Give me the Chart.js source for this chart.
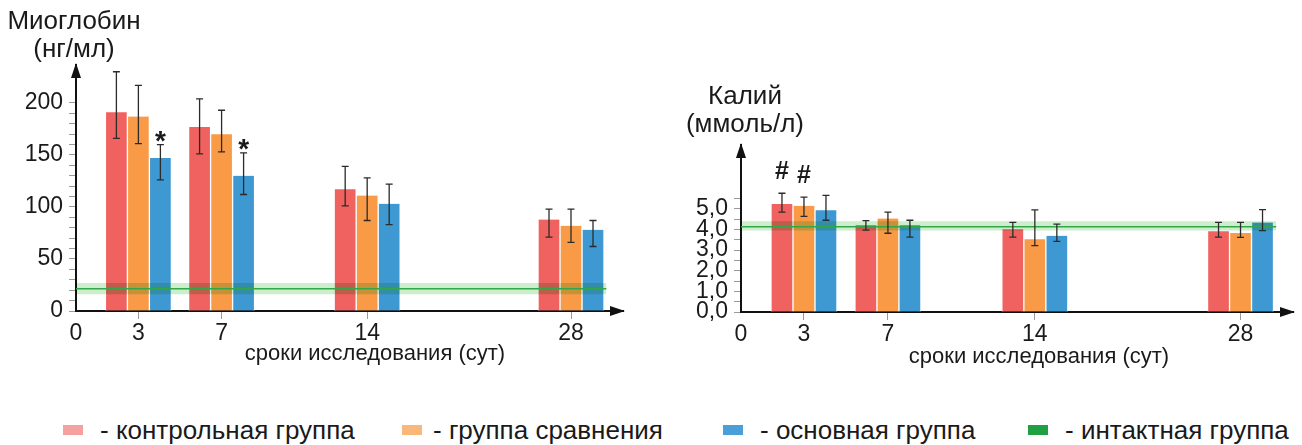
<!DOCTYPE html>
<html>
<head>
<meta charset="utf-8">
<script src="https://cdn.jsdelivr.net/npm/chart.js@4.4.1/dist/chart.umd.min.js"></script>
<style>
  body { margin: 0; background: #fff; font-family: "Liberation Sans", Arial, sans-serif; color: #1a1a1a; }
  #page { position: relative; width: 1302px; height: 445px; overflow: hidden; }
  .box { position: absolute; top: 0; }
  .ytitle { position: absolute; width: 240px; text-align: center; font-size: 26px; line-height: 28px; }
  .xtitle { position: absolute; width: 400px; text-align: center; font-size: 22px; line-height: 26px; }
  .sq { position: absolute; width: 20px; height: 10px; top: 425px; }
  .lt { position: absolute; top: 415px; font-size: 26px; line-height: 30px; white-space: nowrap; }
</style>
</head>
<body>
<div id="page">
  <div class="box" style="left:0"><canvas id="chartMyo" width="650" height="400"></canvas></div>
  <div class="box" style="left:650px"><canvas id="chartK" width="652" height="400"></canvas></div>

  <div class="ytitle" style="left:-46px; top:6px">Миоглобин<br>(нг/мл)</div>
  <div class="ytitle" style="left:625px; top:81px">Калий<br>(ммоль/л)</div>
  <div class="xtitle" style="left:175px; top:340px">сроки исследования (сут)</div>
  <div class="xtitle" style="left:839px; top:343px">сроки исследования (сут)</div>

  <div class="sq" style="left:63px; background:#F5A19F"></div><div class="lt" style="left:100px">- контрольная группа</div>
  <div class="sq" style="left:402px; background:#F9B77A"></div><div class="lt" style="left:433px">- группа сравнения</div>
  <div class="sq" style="left:723px; background:#4A9FD6"></div><div class="lt" style="left:760px">- основная группа</div>
  <div class="sq" style="left:1028px; background:#1FA042"></div><div class="lt" style="left:1065px">- интактная группа</div>
</div>

<script>
// study days (labels) and where they sit on the (broken) time axis
var dayLabels = ['0', '3', '7', '14', '28'];
var dayPos = [0, 3, 7, 14, 23.8];
var xMax = 26.3;
var intactSpan = [0, 25.5];

var groupColors = ['#F0625F', '#F99B46', '#3E98D2'];

// myoglobin, ng/ml : control, comparison, main group
var myoMean = [[191, 177, 117, 88], [187, 170, 111, 82], [147, 130, 103, 78]];
var myoLow  = [[166, 151, 101, 71], [161, 153, 87, 66], [126, 112, 83, 62]];
var myoHigh = [[230, 204, 139, 98], [217, 193, 128, 98], [160, 152, 122, 87]];
var myoMarks = [['', '', '', ''], ['', '', '', ''], ['*', '*', '', '']];
var myoIntact = [21.5, 16, 27]; // mean, low, high
var myoTicks = [0, 50, 100, 150, 200];
var myoTickLabels = ['0', '50', '100', '150', '200'];

// potassium, mmol/l
var kMean = [[5.24, 4.21, 4.01, 3.92], [5.15, 4.53, 3.53, 3.83], [4.94, 4.21, 3.70, 4.34]];
var kLow  = [[4.84, 3.97, 3.63, 3.63], [4.64, 3.82, 3.22, 3.62], [4.45, 3.63, 3.43, 3.95]];
var kHigh = [[5.76, 4.43, 4.35, 4.35], [5.57, 4.84, 4.95, 4.35], [5.66, 4.45, 4.26, 4.97]];
var kMarks = [['#', '', '', ''], ['#', '', '', ''], ['', '', '', '']];
var kIntact = [4.14, 3.95, 4.40];
var kTicks = [0, 1, 2, 3, 4, 5];
var kTickLabels = ['0,0', '1,0', '2,0', '3,0', '4,0', '5,0'];

var FONT = '"Liberation Sans", Arial, sans-serif';

// error bars + significance marks + axis arrows
var extrasPlugin = {
  id: 'extras',
  // the intact band (dataset 3) is drawn right after dataset 0, blend it with multiply
  afterDatasetDraw: function(chart, args) {
    if (args.index === 0) chart.ctx.globalCompositeOperation = 'multiply';
    if (args.index === 3) chart.ctx.globalCompositeOperation = 'source-over';
  },
  afterDatasetsDraw: function(chart) {
    var o = chart.options.plugins.extras;
    var ctx = chart.ctx;
    var yScale = chart.scales.y;
    ctx.save();
    ctx.globalCompositeOperation = 'source-over';
    for (var s = 0; s < 3; s++) {
      var meta = chart.getDatasetMeta(s);
      meta.data.forEach(function(bar, j) {
        var yLo = yScale.getPixelForValue(o.low[s][j]);
        var yHi = yScale.getPixelForValue(o.high[s][j]);
        ctx.strokeStyle = '#2b2b2b';
        ctx.lineWidth = 1.3;
        ctx.beginPath();
        ctx.moveTo(bar.x, yLo); ctx.lineTo(bar.x, yHi);
        ctx.moveTo(bar.x - 3.5, yLo); ctx.lineTo(bar.x + 3.5, yLo);
        ctx.moveTo(bar.x - 3.5, yHi); ctx.lineTo(bar.x + 3.5, yHi);
        ctx.stroke();
        var mark = o.marks[s][j];
        if (mark) {
          ctx.font = 'bold ' + o.markSize + 'px ' + FONT;
          ctx.fillStyle = '#1a1a1a';
          ctx.textAlign = 'center';
          ctx.textBaseline = 'alphabetic';
          var m = ctx.measureText(mark);
          ctx.fillText(mark, bar.x, yHi - o.markGap - m.actualBoundingBoxDescent);
        }
      });
    }
    ctx.restore();
  },
  afterDraw: function(chart) {
    var a = chart.chartArea;
    var ctx = chart.ctx;
    ctx.save();
    ctx.fillStyle = '#111';
    ctx.beginPath();
    ctx.moveTo(a.left, a.top - 2);
    ctx.lineTo(a.left - 5, a.top + 13);
    ctx.lineTo(a.left + 5, a.top + 13);
    ctx.closePath();
    ctx.fill();
    ctx.beginPath();
    ctx.moveTo(a.right + 2, a.bottom);
    ctx.lineTo(a.right - 13, a.bottom - 5);
    ctx.lineTo(a.right - 13, a.bottom + 5);
    ctx.closePath();
    ctx.fill();
    ctx.restore();
  }
};

function points(values) {
  return values.map(function(v, j) { return { x: dayPos[j + 1], y: v }; });
}

function make_chart(id, cfg) {
  var datasets = [];
  for (var s = 0; s < 3; s++) {
    datasets.push({
      type: 'bar',
      data: points(cfg.mean[s]),
      backgroundColor: groupColors[s],
      borderColor: '#ffffff',
      borderWidth: { left: 1, right: 1, top: 0, bottom: 0 },
      borderSkipped: false,
      barThickness: 22,
      order: 2
    });
  }
  // intact group: band (mean +- spread) and mean line
  datasets.push({
    type: 'line',
    data: [{ x: intactSpan[0], y: cfg.intact[2] }, { x: intactSpan[1], y: cfg.intact[2] }],
    borderWidth: 0,
    pointRadius: 0,
    backgroundColor: 'rgb(204, 238, 204)',
    fill: { value: cfg.intact[1] },
    order: 1
  });
  datasets.push({
    type: 'line',
    data: [{ x: intactSpan[0], y: cfg.intact[0] }, { x: intactSpan[1], y: cfg.intact[0] }],
    borderColor: '#34A64A',
    borderWidth: 1.5,
    pointRadius: 0,
    fill: false,
    order: 0
  });

  return new Chart(document.getElementById(id), {
    type: 'bar',
    data: { datasets: datasets },
    plugins: [extrasPlugin],
    options: {
      responsive: false,
      devicePixelRatio: 1,
      animation: false,
      layout: { padding: cfg.padding },
      plugins: {
        legend: { display: false },
        tooltip: { enabled: false },
        extras: { low: cfg.low, high: cfg.high, marks: cfg.marks, markGap: cfg.markGap, markSize: cfg.markSize }
      },
      scales: {
        x: {
          type: 'linear',
          min: 0,
          max: xMax,
          offset: false,
          afterBuildTicks: function(scale) {
            scale.ticks = dayPos.map(function(v) { return { value: v }; });
          },
          afterFit: function(scale) { scale.height = cfg.xHeight; },
          ticks: {
            autoSkip: false,
            maxRotation: 0,
            padding: 1,
            color: '#1a1a1a',
            font: { family: FONT, size: 23 },
            callback: function(v) { return dayLabels[dayPos.indexOf(v)]; }
          },
          grid: {
            offset: false,
            drawOnChartArea: false,
            tickLength: 8,
            color: function(c) { return c.tick && c.tick.value === 0 ? 'rgba(0,0,0,0)' : '#9a9a9a'; }
          },
          border: { color: '#111', width: 2 }
        },
        y: {
          min: 0,
          max: cfg.yMax,
          afterBuildTicks: function(scale) {
            scale.ticks = scale.ticks.filter(function(t) { return t.value <= cfg.tickTop + 1e-9; });
          },
          afterFit: function(scale) { scale.width = cfg.yWidth; },
          ticks: {
            stepSize: cfg.step,
            autoSkip: false,
            padding: 6,
            color: '#1a1a1a',
            font: { family: FONT, size: 23 },
            callback: function(v) {
              var i = cfg.ticks.indexOf(v);
              return i >= 0 ? cfg.tickLabels[i] : '';
            }
          },
          grid: { drawOnChartArea: false, tickLength: 7, color: '#9a9a9a' },
          border: { color: '#111', width: 2 }
        }
      }
    }
  });
}

make_chart('chartMyo', {
  mean: myoMean, low: myoLow, high: myoHigh, marks: myoMarks, intact: myoIntact,
  ticks: myoTicks, tickLabels: myoTickLabels, step: 10, tickTop: 200, yMax: 236.5,
  padding: { top: 65, right: 27, left: 0, bottom: 0 }, yWidth: 76, xHeight: 89,
  markGap: 3, markSize: 28
});

make_chart('chartK', {
  mean: kMean, low: kLow, high: kHigh, marks: kMarks, intact: kIntact,
  ticks: kTicks, tickLabels: kTickLabels, step: 0.5, tickTop: 5.5, yMax: 8.1,
  padding: { top: 145, right: 9, left: 0, bottom: 0 }, yWidth: 91, xHeight: 88,
  markGap: 14, markSize: 25
});
</script>
</body>
</html>
